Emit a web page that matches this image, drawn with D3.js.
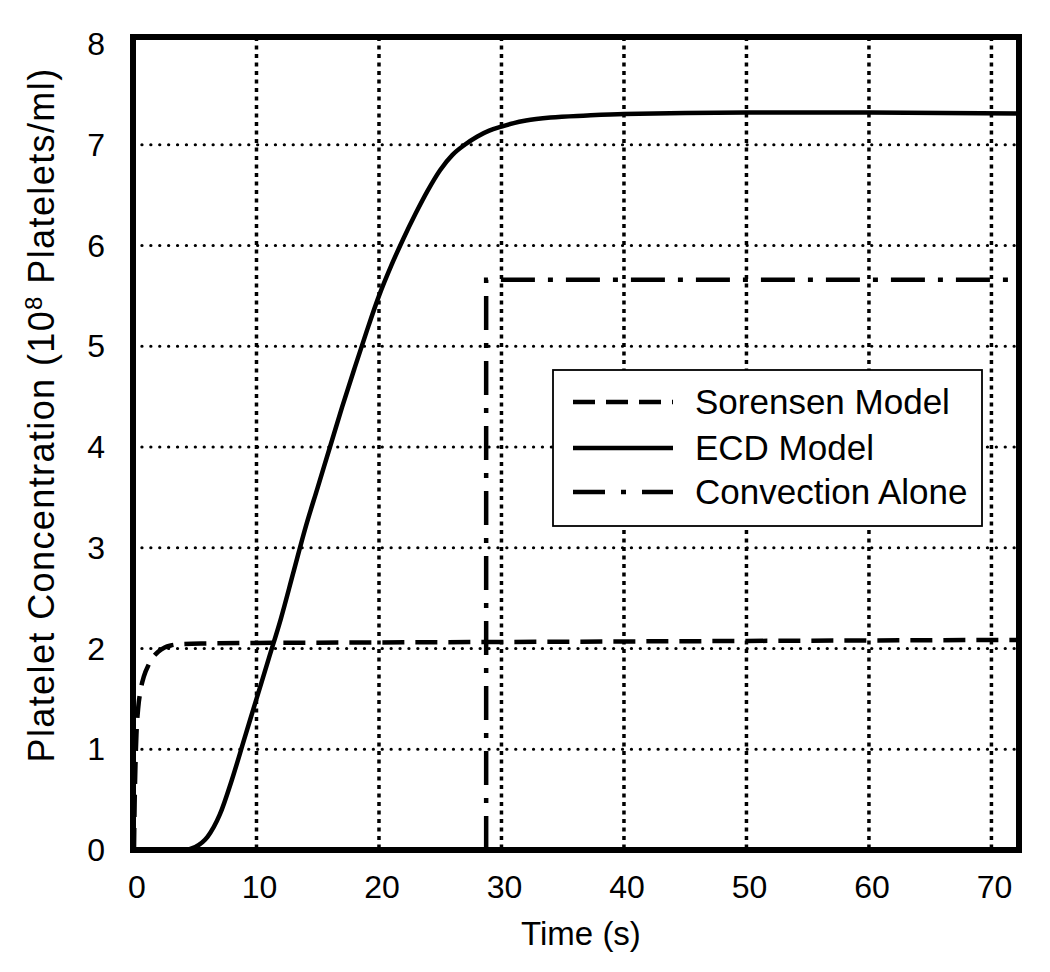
<!DOCTYPE html>
<html>
<head>
<meta charset="utf-8">
<script src="https://cdn.jsdelivr.net/npm/d3@7"></script>
<style>
  html, body { margin: 0; padding: 0; background: #fff; }
  svg { display: block; font-family: "Liberation Sans", Arial, Helvetica, sans-serif; }
</style>
</head>
<body>
<svg id="chart" width="1050" height="972"></svg>
<script>
// ---- Data ----
const xTicks = [0, 10, 20, 30, 40, 50, 60, 70];
const yTicks = [0, 1, 2, 3, 4, 5, 6, 7, 8];
const xGrid = [10, 20, 30, 40, 50, 60, 70];
const yGrid = [1, 2, 3, 4, 5, 6, 7];

const sorensenT = [0, 0.05, 0.12, 0.2, 0.35, 0.5, 0.8, 1.2, 1.6, 2.0, 2.5, 3.0, 4.0, 6, 10, 20, 30, 40, 50, 60, 72.2];
const sorensenC = [0, 0.45, 0.85, 1.15, 1.42, 1.56, 1.72, 1.84, 1.92, 1.97, 2.01, 2.03, 2.045, 2.05, 2.055, 2.06, 2.065, 2.07, 2.075, 2.08, 2.085];

const ecdT = [0, 4, 5, 6, 7, 8, 9, 10, 11, 12, 13, 14, 15, 16, 17, 18, 19, 20, 21, 22, 23, 24, 25, 26, 27, 28, 29, 30, 31, 32, 34, 37, 40, 50, 60, 72.2];
const ecdC = [0, 0, 0.03, 0.13, 0.35, 0.7, 1.1, 1.5, 1.9, 2.3, 2.75, 3.2, 3.6, 4.0, 4.4, 4.78, 5.15, 5.5, 5.8, 6.07, 6.32, 6.55, 6.75, 6.9, 7.0, 7.08, 7.14, 7.18, 7.215, 7.24, 7.27, 7.29, 7.305, 7.32, 7.32, 7.31];

const convT = [28.75, 28.75, 72.2];
const convC = [0, 5.66, 5.66];

const legendLabels = ["Sorensen Model", "ECD Model", "Convection Alone"];
const legendDash = ["22,11", null, "32,16,5,16"];

const xTitle = "Time (s)";
const yTitleA = "Platelet Concentration (10";
const yTitleSup = "8";
const yTitleB = " Platelets/ml)";

// ---- Scales ----
const svg = d3.select("#chart");
const x = d3.scaleLinear().domain([0, 72.25]).range([134, 1019]);
const y = d3.scaleLinear().domain([0, 8]).range([850, 44]);
const frameL = 133, frameR = 1019, frameT = 37, frameB = 850;

// ---- Grid ----
const g = svg.append("g");
g.selectAll(".vg").data(xGrid).join("line")
  .attr("x1", d => x(d)).attr("x2", d => x(d))
  .attr("y1", frameT).attr("y2", frameB)
  .attr("stroke", "#000").attr("stroke-width", 3.5)
  .attr("stroke-dasharray", "4,4.5");
g.selectAll(".hg").data(yGrid).join("line")
  .attr("x1", frameL).attr("x2", frameR)
  .attr("y1", d => y(d)).attr("y2", d => y(d))
  .attr("stroke", "#000").attr("stroke-width", 3.2)
  .attr("stroke-linecap", "round")
  .attr("stroke-dasharray", "0.1,8.8");

// ---- Series ----
const line = d3.line().x(d => x(d[0])).y(d => y(d[1]));
const smooth = d3.line().x(d => x(d[0])).y(d => y(d[1])).curve(d3.curveMonotoneX);

const sorensen = sorensenT.map((t, i) => [t, sorensenC[i]]);
const ecd = ecdT.map((t, i) => [t, ecdC[i]]);
const conv = convT.map((t, i) => [t, convC[i]]);

g.append("path").attr("d", smooth(sorensen))
  .attr("fill", "none").attr("stroke", "#000").attr("stroke-width", 4.5)
  .attr("stroke-dasharray", "22,11");
g.append("path").attr("d", smooth(ecd))
  .attr("fill", "none").attr("stroke", "#000").attr("stroke-width", 4.5);
g.append("path").attr("d", line(conv))
  .attr("fill", "none").attr("stroke", "#000").attr("stroke-width", 4.5)
  .attr("stroke-linejoin", "miter")
  .attr("stroke-dasharray", "34,13,5,13");

// ---- Frame ----
svg.append("rect").attr("x", frameL).attr("y", frameT)
  .attr("width", frameR - frameL).attr("height", frameB - frameT)
  .attr("fill", "none").attr("stroke", "#000").attr("stroke-width", 6);

// ---- Ticks ----
svg.selectAll(".xt").data(xTicks).join("text")
  .attr("x", d => x(d) + 3).attr("y", 898)
  .attr("text-anchor", "middle").attr("font-size", 32).text(d => d);
svg.selectAll(".yt").data(yTicks).join("text")
  .attr("x", 105).attr("y", d => y(d) + 11)
  .attr("text-anchor", "end").attr("font-size", 32).text(d => d);

// ---- Titles ----
svg.append("text").attr("x", 581).attr("y", 945)
  .attr("text-anchor", "middle").attr("font-size", 33).text(xTitle);
const yt = svg.append("text")
  .attr("transform", "translate(54,415) rotate(-90)")
  .attr("text-anchor", "middle").attr("font-size", 36)
  .attr("letter-spacing", 1.4);
yt.append("tspan").text(yTitleA);
yt.append("tspan").attr("dy", -12).attr("font-size", 24).text(yTitleSup);
yt.append("tspan").attr("dy", 12).text(yTitleB);

// ---- Legend ----
const lg = svg.append("g");
lg.append("rect").attr("x", 553).attr("y", 370).attr("width", 429).attr("height", 156)
  .attr("fill", "#fff").attr("stroke", "#000").attr("stroke-width", 1.8);
const rowY = [402, 448, 492];
legendLabels.forEach((lab, i) => {
  const l = lg.append("line").attr("x1", 573).attr("x2", 673)
    .attr("y1", rowY[i]).attr("y2", rowY[i])
    .attr("stroke", "#000").attr("stroke-width", 4.5);
  if (legendDash[i]) l.attr("stroke-dasharray", legendDash[i]);
  lg.append("text").attr("x", 695).attr("y", rowY[i] + 12)
    .attr("font-size", 35).text(lab);
});
</script>
</body>
</html>
